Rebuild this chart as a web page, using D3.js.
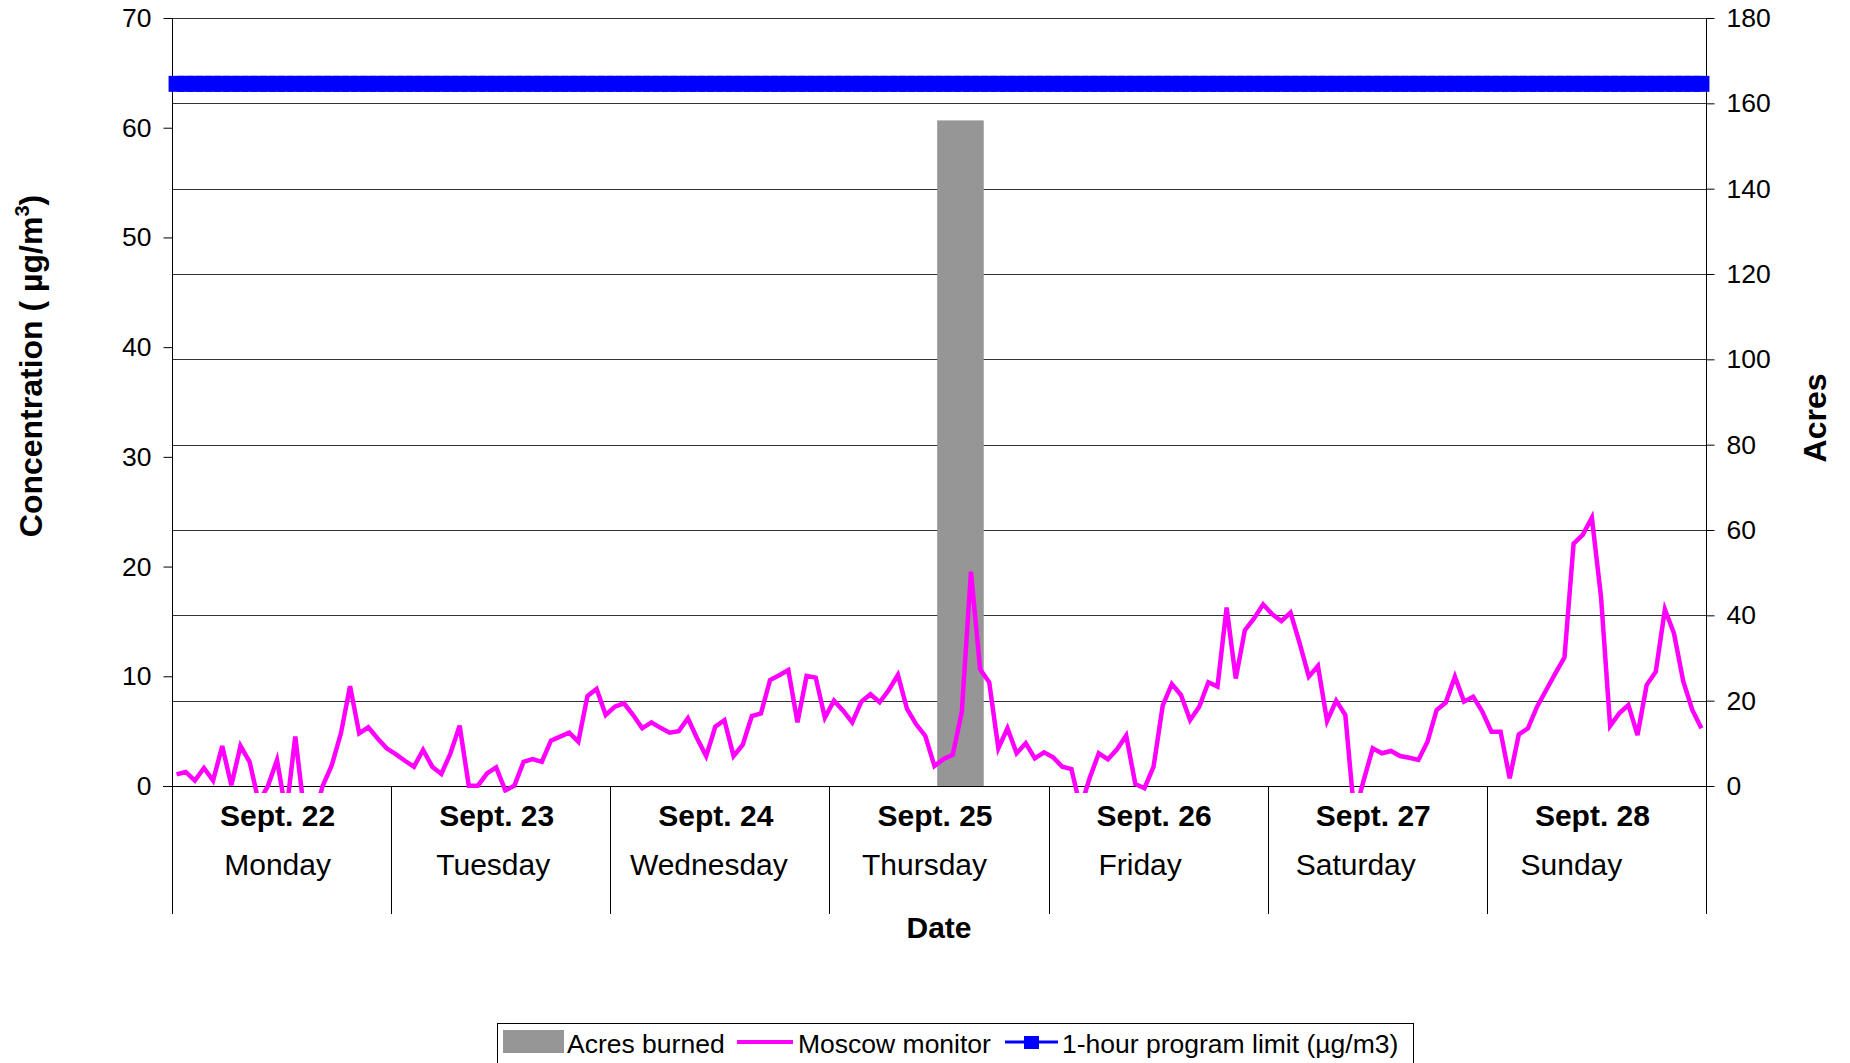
<!DOCTYPE html>
<html>
<head>
<meta charset="utf-8">
<script src="https://cdn.jsdelivr.net/npm/d3@7"></script>
<style>
  body { margin: 0; background: #fff; }
  text { font-family: "Liberation Sans", Arial, sans-serif; fill: #000; }
</style>
</head>
<body>
<script>
// day categories along the bottom
var days = ["Sept. 22", "Sept. 23", "Sept. 24", "Sept. 25", "Sept. 26", "Sept. 27", "Sept. 28"];
var dayNames = ["Monday", "Tuesday", "Wednesday", "Thursday", "Friday", "Saturday", "Sunday"];

// hourly Moscow monitor readings (ug/m3), 24 per day
var moscow = [
    1.06, 1.28, 0.49, 1.64, 0.49, 3.65, 0.06, 3.65, 2.2, -1.5, 0.0, 2.37, -2.5, 4.5, -2.5, -3.0, 0.0, 1.9, 4.8, 9.1, 4.8, 5.35, 4.35, 3.43,
    2.9, 2.3, 1.76, 3.28, 1.76, 1.1, 2.98, 5.5, 0.03, 0.03, 1.15, 1.7, -0.4, 0.03, 2.2, 2.46, 2.2, 4.13, 4.5, 4.86, 4.04, 8.2, 8.84, 6.47,
    7.23, 7.54, 6.47, 5.26, 5.8, 5.3, 4.86, 5.0, 6.17, 4.35, 2.73, 5.4, 6.0, 2.73, 3.74, 6.38, 6.62, 9.66, 10.1, 10.57, 5.8, 10.03, 9.88, 6.23,
    7.78, 6.87, 5.8, 7.69, 8.36, 7.63, 8.75, 10.12, 7.02, 5.62, 4.56, 1.82, 2.46, 2.83, 6.78, 19.54, 10.64, 9.45, 3.43, 5.26, 2.98, 3.89, 2.52, 3.07,
    2.61, 1.76, 1.55, -2.0, 0.73, 2.98, 2.43, 3.34, 4.6, 0.18, -0.2, 1.76, 7.32, 9.3, 8.3, 6.0, 7.23, 9.45, 9.06, 16.26, 9.8, 14.2, 15.28, 16.56,
    15.65, 15.04, 15.8, 13.0, 9.97, 10.94, 5.93, 7.78, 6.47, -2.7, 0.5, 3.43, 2.98, 3.19, 2.73, 2.58, 2.37, 4.04, 6.93, 7.6, 9.97, 7.69, 8.14, 6.78,
    4.95, 4.95, 0.7, 4.7, 5.26, 7.23, 8.75, 10.27, 11.73, 22.1, 22.9, 24.46, 17.26, 5.47, 6.62, 7.38, 4.65, 9.2, 10.42, 16.1, 13.9, 9.57, 6.93, 5.26
];

// burn on Thursday: hours from start of week, acres
var burnStart = [83.8];
var burnEnd = [88.9];
var acres = [156];

var programLimit = 64;

var leftTicks = [0, 10, 20, 30, 40, 50, 60, 70];
var rightTicks = [0, 20, 40, 60, 80, 100, 120, 140, 160, 180];

var W = 1850, H = 1063;
var plot = { left: 172, right: 1706, top: 18, bottom: 786 };
var FONT = "Liberation Sans, Arial, sans-serif";

var svg = d3.select("body").append("svg")
    .attr("width", W)
    .attr("height", H);

// scales
var nHours = days.length * 24;
var x = d3.scaleLinear().domain([0, nHours]).range([plot.left, plot.right]);
var yL = d3.scaleLinear().domain([0, 70]).range([plot.bottom, plot.top]);
var yR = d3.scaleLinear().domain([0, 180]).range([plot.bottom, plot.top]);

// gridlines (on the acres axis)
svg.append("g")
    .selectAll("line")
    .data(rightTicks)
    .enter().append("line")
    .attr("x1", plot.left).attr("x2", plot.right)
    .attr("y1", function (d) { return Math.round(yR(d)) + 0.5; })
    .attr("y2", function (d) { return Math.round(yR(d)) + 0.5; })
    .attr("stroke", "#333")
    .attr("stroke-width", 1);

// acres burned bar
svg.append("g")
    .selectAll("rect")
    .data(acres)
    .enter().append("rect")
    .attr("x", function (d, i) { return x(burnStart[i]); })
    .attr("width", function (d, i) { return x(burnEnd[i]) - x(burnStart[i]); })
    .attr("y", function (d) { return yR(d); })
    .attr("height", function (d) { return plot.bottom - yR(d); })
    .attr("fill", "#969696");

// left axis
var axL = svg.append("g")
    .attr("transform", "translate(" + (plot.left + 0.5) + ",0)")
    .call(d3.axisLeft(yL).tickValues(leftTicks).tickSize(9).tickPadding(12));
axL.select(".domain").remove();
axL.selectAll(".tick line").attr("stroke", "#000");
axL.selectAll(".tick text").attr("font-size", "26.5px").attr("font-family", FONT);

// right axis
var axR = svg.append("g")
    .attr("transform", "translate(" + (plot.right + 0.5) + ",0)")
    .call(d3.axisRight(yR).tickValues(rightTicks).tickSize(8).tickPadding(12));
axR.select(".domain").remove();
axR.selectAll(".tick line").attr("stroke", "#000");
axR.selectAll(".tick text").attr("font-size", "26.5px").attr("font-family", FONT);

// axis lines and day separators
svg.append("line")
    .attr("x1", plot.left - 9).attr("x2", plot.right)
    .attr("y1", plot.bottom + 0.5).attr("y2", plot.bottom + 0.5)
    .attr("stroke", "#000");
svg.append("line")
    .attr("x1", plot.right + 0.5).attr("x2", plot.right + 0.5)
    .attr("y1", plot.top).attr("y2", plot.bottom)
    .attr("stroke", "#000");

var sepBottom = 914;
svg.append("g")
    .selectAll("line")
    .data(d3.range(days.length + 1))
    .enter().append("line")
    .attr("x1", function (d) { return Math.round(x(d * 24)) + 0.5; })
    .attr("x2", function (d) { return Math.round(x(d * 24)) + 0.5; })
    .attr("y1", function (d) { return d == 0 ? plot.top : plot.bottom; })
    .attr("y2", sepBottom)
    .attr("stroke", "#000");

// day labels
var dayG = svg.append("g");
dayG.selectAll("text.date")
    .data(days)
    .enter().append("text")
    .attr("class", "date")
    .attr("x", function (d, i) { return x(i * 24 + 12) - 4; })
    .attr("y", 826)
    .attr("text-anchor", "middle")
    .attr("font-size", "30px")
    .attr("font-weight", "bold")
    .text(function (d) { return d; });
// names sit a little left of the day centre, more so later in the week
dayG.selectAll("text.dname")
    .data(dayNames)
    .enter().append("text")
    .attr("class", "dname")
    .attr("x", function (d, i) { return x(i * 24 + 12) - 4 - i * 3.5; })
    .attr("y", 875)
    .attr("text-anchor", "middle")
    .attr("font-size", "30px")
    .text(function (d) { return d; });

// clip for the monitor line
svg.append("clipPath").attr("id", "plotclip")
    .append("rect")
    .attr("x", plot.left).attr("y", plot.top)
    .attr("width", plot.right - plot.left)
    .attr("height", plot.bottom - plot.top + 7);

var line = d3.line()
    .x(function (d, i) { return x(i + 0.5); })
    .y(function (d) { return yL(d); });

svg.append("path")
    .datum(moscow)
    .attr("clip-path", "url(#plotclip)")
    .attr("d", line)
    .attr("fill", "none")
    .attr("stroke", "#ff00ff")
    .attr("stroke-width", 4.5)
    .attr("stroke-linejoin", "miter");

// 1-hour program limit, one marker per hour
var limitPts = moscow.map(function (d, i) { return i; });
svg.append("line")
    .attr("x1", x(0.5)).attr("x2", x(nHours - 0.5))
    .attr("y1", yL(programLimit)).attr("y2", yL(programLimit))
    .attr("stroke", "#0000ff").attr("stroke-width", 3);
svg.append("g")
    .selectAll("rect")
    .data(limitPts)
    .enter().append("rect")
    .attr("x", function (d) { return x(d + 0.5) - 8; })
    .attr("y", yL(programLimit) - 8)
    .attr("width", 16).attr("height", 16)
    .attr("fill", "#0000ff");

// axis titles
svg.append("text")
    .attr("transform", "translate(42,366) rotate(-90)")
    .attr("text-anchor", "middle")
    .attr("font-size", "32px")
    .attr("font-weight", "bold")
    .html('Concentration ( µg/m<tspan dy="-13" font-size="20px">3</tspan><tspan dy="13">)</tspan>');

svg.append("text")
    .attr("transform", "translate(1826,418) rotate(-90)")
    .attr("text-anchor", "middle")
    .attr("font-size", "32px")
    .attr("font-weight", "bold")
    .text("Acres");

svg.append("text")
    .attr("x", x(nHours / 2))
    .attr("y", 938)
    .attr("text-anchor", "middle")
    .attr("font-size", "30px")
    .attr("font-weight", "bold")
    .text("Date");

// legend
var lg = svg.append("g");
lg.append("rect")
    .attr("x", 497.5).attr("y", 1023.5)
    .attr("width", 916).attr("height", 60)
    .attr("fill", "#fff").attr("stroke", "#000");
lg.append("rect")
    .attr("x", 503).attr("y", 1030)
    .attr("width", 61).attr("height", 23)
    .attr("fill", "#969696");
lg.append("text").attr("x", 567).attr("y", 1053).attr("font-size", "26.5px").text("Acres burned");
lg.append("line")
    .attr("x1", 737).attr("x2", 793).attr("y1", 1042).attr("y2", 1042)
    .attr("stroke", "#ff00ff").attr("stroke-width", 4);
lg.append("text").attr("x", 798).attr("y", 1053).attr("font-size", "26.5px").text("Moscow monitor");
lg.append("line")
    .attr("x1", 1005).attr("x2", 1058).attr("y1", 1042).attr("y2", 1042)
    .attr("stroke", "#0000ff").attr("stroke-width", 3);
lg.append("rect")
    .attr("x", 1024).attr("y", 1036)
    .attr("width", 15).attr("height", 13)
    .attr("fill", "#0000ff");
lg.append("text").attr("x", 1062).attr("y", 1053).attr("font-size", "26.5px").text("1-hour program limit (µg/m3)");
</script>
</body>
</html>
